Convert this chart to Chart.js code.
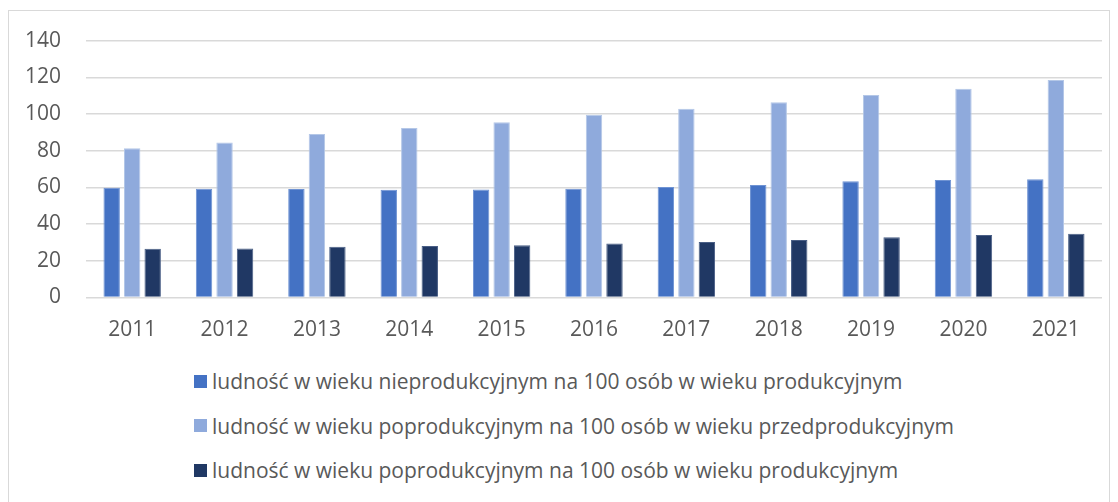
<!DOCTYPE html>
<html>
<head>
<meta charset="utf-8">
<script src="https://cdn.jsdelivr.net/npm/chart.js@4"></script>
<style>
  body { margin: 0; background: #fff; font-family: "Open Sans", sans-serif; }
  #ramka { position: absolute; left: 8px; top: 10px; width: 1100px; height: 500px; border: 1px solid #d9d9d9; }
  #wykres_box { position: absolute; left: 0; top: 0; width: 1100px; height: 345px; }
  #legenda { position: absolute; left: 185px; top: 348px; color: #595959; font-size: 21px; }
  .poz { height: 44.5px; display: flex; align-items: center; }
  .kw { width: 13px; height: 13px; margin-right: 5px; }
</style>
</head>
<body>
<div id="ramka">
  <div id="wykres_box"><canvas id="wykres"></canvas></div>
  <div id="legenda"></div>
</div>
<script>
const lata = ['2011','2012','2013','2014','2015','2016','2017','2018','2019','2020','2021']
const nieprodukcyjny = [59.8, 59.2, 59.1, 58.7, 58.9, 59.2, 60.2, 61.3, 63.3, 64.0, 64.4]
const poprod_przedprod = [81.4, 84.5, 89.1, 92.4, 95.5, 99.6, 102.9, 106.4, 110.4, 113.8, 118.5]
const poprod_prod = [26.5, 26.7, 27.6, 28.0, 28.5, 29.4, 30.3, 31.3, 32.9, 34.0, 34.7]
const etykiety = [
    'ludność w wieku nieprodukcyjnym na 100 osób w wieku produkcyjnym',
    'ludność w wieku poprodukcyjnym na 100 osób w wieku przedprodukcyjnym',
    'ludność w wieku poprodukcyjnym na 100 osób w wieku produkcyjnym'
]
const kolory = ['#4472c4', '#8faadc', '#203864']
const obramowania = ['#6f93d3', '#b4c7e7', '#4a5f86']

const serie = [nieprodukcyjny, poprod_przedprod, poprod_prod]

function zbuduj_dane() {
    return {
        labels: lata,
        datasets: serie.map((s, i) => ({
            label: etykiety[i],
            data: s,
            backgroundColor: kolory[i],
            borderColor: obramowania[i],
            borderWidth: 1,
            categoryPercentage: 0.666,
            barPercentage: 0.8
        }))
    }
}

function llenar_legenda(chart) {
    const box = document.getElementById('legenda')
    chart.data.datasets.forEach(ds => {
        box.insertAdjacentHTML('beforeend',
            `<div class="poz"><span class="kw" style="background:${ds.backgroundColor}"></span>${ds.label}</div>`)
    })
}

const wykres = new Chart(document.getElementById('wykres'), {
    type: 'bar',
    data: zbuduj_dane(),
    options: {
        responsive: true,
        maintainAspectRatio: false,
        animation: false,
        layout: { padding: { left: 0, right: 7, top: 29.6, bottom: 0 } },
        plugins: { legend: { display: false }, tooltip: { enabled: false } },
        scales: {
            x: {
                afterFit: s => { s.height = 58.5; s.paddingLeft = 0; s.paddingRight = 0 },
                grid: { display: false, drawTicks: false },
                border: { display: false },
                ticks: { color: '#595959', font: { size: 21, family: 'Open Sans' }, padding: 20 }
            },
            y: {
                min: 0, max: 140,
                afterFit: s => { s.width = 77; s.paddingTop = 0; s.paddingBottom = 0 },
                grid: { color: '#d9d9d9', lineWidth: 1.5, drawTicks: false },
                border: { display: false },
                ticks: { stepSize: 20, color: '#595959', font: { size: 21, family: 'Open Sans' }, padding: 25 }
            }
        }
    }
})
llenar_legenda(wykres)
</script>
</body>
</html>
